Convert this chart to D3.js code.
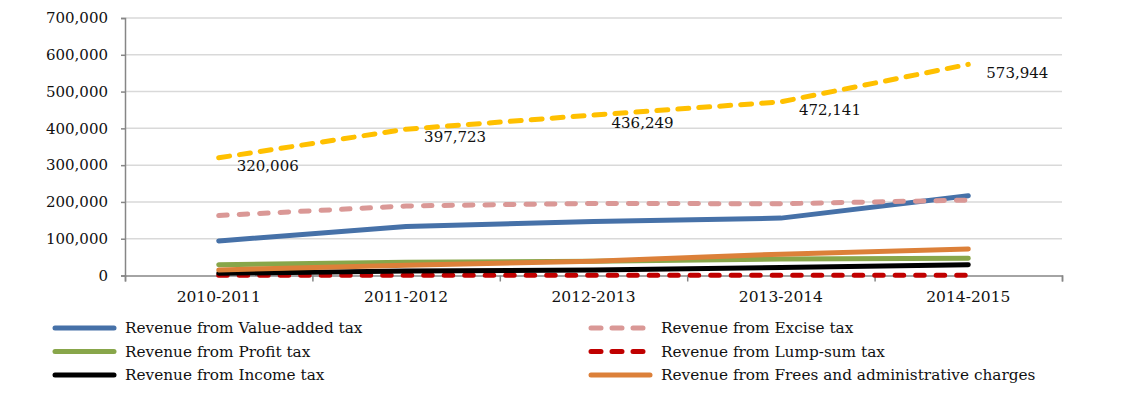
<!DOCTYPE html>
<html lang="en">
<head>
  <meta charset="UTF-8">
  <title>Tax revenue</title>
  <script src="https://d3js.org/d3.v7.min.js"></script>
  <style>
    body { margin: 0; background: #fff; }
    text { font-family: "DejaVu Serif", serif; fill: #111; }
  </style>
</head>
<body>
  <div id="chart"></div>
  <script>
    const years = ["2010-2011", "2011-2012", "2012-2013", "2013-2014", "2014-2015"];
    const yTicks = [0, 100000, 200000, 300000, 400000, 500000, 600000, 700000];

    const vatValues = [94000, 133000, 147000, 156000, 217000];
    const exciseValues = [163000, 189000, 196000, 195000, 205000];
    const profitValues = [29000, 36000, 39000, 45000, 47000];
    const lumpSumValues = [1000, 1000, 1000, 1000, 1000];
    const incomeValues = [6000, 12000, 15000, 22000, 29000];
    const feesValues = [15000, 28000, 39000, 58000, 72000];
    const totalValues = [320006, 397723, 436249, 472141, 573944];

    // series in drawing order; legend runs row by row in two columns
    const series = [
      { name: "Revenue from Value-added tax", values: vatValues, color: "#4671a8", dash: null, legend: true },
      { name: "Revenue from Excise tax", values: exciseValues, color: "#da9896", dash: "8.5 12", legend: true },
      { name: "Revenue from Profit tax", values: profitValues, color: "#88a64a", dash: null, legend: true },
      { name: "Revenue from Lump-sum tax", values: lumpSumValues, color: "#c00000", dash: "8.5 12", legend: true },
      { name: "Revenue from Income tax", values: incomeValues, color: "#000000", dash: null, legend: true },
      { name: "Revenue from Frees and administrative charges", values: feesValues, color: "#dc8039", dash: null, legend: true },
      { name: "Total", values: totalValues, color: "#ffc000", dash: "11 10", legend: false, labels: true }
    ];

    const width = 1134, height = 413;
    const margin = { left: 125, right: 72, top: 18, bottom: 137.5 };

    const svg = d3.select("#chart").append("svg")
      .attr("width", width)
      .attr("height", height);

    const x = d3.scaleBand()
      .domain(years)
      .range([margin.left, width - margin.right]);

    const y = d3.scaleLinear()
      .domain([0, 700000])
      .range([height - margin.bottom, margin.top]);

    const fmt = d3.format(",");

    // gridlines
    svg.append("g")
      .selectAll("line")
      .data(yTicks.filter(d => d > 0))
      .join("line")
      .attr("x1", margin.left)
      .attr("x2", width - margin.right)
      .attr("y1", d => y(d))
      .attr("y2", d => y(d))
      .attr("stroke", "#d9d9d9")
      .attr("stroke-width", 1.5);

    // y axis
    const yAxis = svg.append("g")
      .attr("transform", `translate(${margin.left},0)`)
      .call(d3.axisLeft(y).tickValues(yTicks).tickFormat(fmt).tickSize(4).tickPadding(13));
    yAxis.select(".domain").attr("stroke", "#868686").attr("stroke-width", 1.5);
    yAxis.selectAll(".tick line").attr("stroke", "#868686").attr("stroke-width", 1.5);
    yAxis.selectAll("text").attr("font-size", 15).attr("font-family", "DejaVu Serif").attr("fill", "#111");

    // x axis: boundary ticks + centred labels
    const xEdges = d3.scaleLinear().domain([0, years.length]).range(x.range());
    const xAxis = svg.append("g")
      .attr("transform", `translate(0,${y(0)})`)
      .call(d3.axisBottom(xEdges).ticks(years.length).tickFormat("").tickSizeInner(6).tickSizeOuter(6));
    xAxis.select(".domain").attr("stroke", "#868686").attr("stroke-width", 1.5);
    xAxis.selectAll(".tick line").attr("stroke", "#868686").attr("stroke-width", 1.5);

    const xLabels = svg.append("g")
      .attr("transform", `translate(0,${y(0)})`)
      .call(d3.axisBottom(x).tickSize(0).tickPadding(15));
    xLabels.select(".domain").remove();
    xLabels.selectAll("text").attr("font-size", 15.5).attr("font-family", "DejaVu Serif").attr("fill", "#111");

    const line = d3.line()
      .x((d, i) => x(years[i]) + x.bandwidth() / 2)
      .y(d => y(d));

    svg.append("g")
      .selectAll("path")
      .data(series)
      .join("path")
      .attr("d", d => line(d.values))
      .attr("fill", "none")
      .attr("stroke", d => d.color)
      .attr("stroke-width", 5)
      .attr("stroke-linecap", "round")
      .attr("stroke-linejoin", "round")
      .attr("stroke-dasharray", d => d.dash);

    // data labels for the total line
    const labelled = series.filter(d => d.labels);
    labelled.forEach(s => {
      svg.append("g")
        .selectAll("text")
        .data(s.values)
        .join("text")
        .attr("x", (d, i) => x(years[i]) + x.bandwidth() / 2 + 18)
        .attr("y", d => y(d) + 8)
        .attr("dy", "0.35em")
        .attr("font-size", 15)
        .text(d => fmt(d));
    });

    // legend
    const legendItems = series.filter(d => d.legend);
    const legend = svg.append("g");
    const items = legend.selectAll("g")
      .data(legendItems)
      .join("g")
      .attr("transform", (d, i) => `translate(${i % 2 === 0 ? 53 : 589},${328 + Math.floor(i / 2) * 23.5})`);

    items.append("line")
      .attr("x1", 2)
      .attr("x2", 61)
      .attr("stroke", d => d.color)
      .attr("stroke-width", 5)
      .attr("stroke-linecap", "round")
      .attr("stroke-dasharray", d => d.dash ? "10 11" : null);

    items.append("text")
      .attr("x", 72)
      .attr("dy", "0.35em")
      .attr("font-size", 15.3)
      .text(d => d.name);
  </script>
</body>
</html>
